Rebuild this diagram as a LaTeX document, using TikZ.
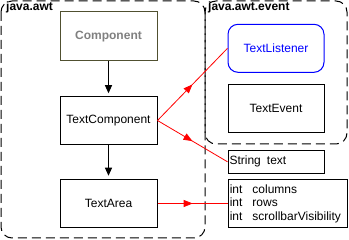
\documentclass[tikz,border=0pt]{standalone}
\usepackage{fontspec}
\setmainfont{Liberation Sans}
\usetikzlibrary{arrows.meta,decorations.markings}
\definecolor{olivebox}{RGB}{80,80,48}
\definecolor{compgray}{RGB}{128,128,128}
\begin{document}
\begin{tikzpicture}[x=1pt,y=-1pt,
  every node/.style={font=\fontsize{12pt}{13.5pt}\selectfont, inner sep=1.5pt},
  cls/.style={draw=black, line width=1pt, minimum width=97pt},
  region/.style={draw=black, line width=1pt, dash pattern=on 9pt off 5pt, rounded corners=11pt},
  regionlabel/.style={font=\fontsize{12pt}{13.5pt}\selectfont\bfseries, anchor=base west, inner sep=0pt},
  inherit/.style={draw=black, line width=1pt, -{Triangle[width=7pt,length=8pt]}, shorten >=3pt},
  uses/.style={draw=red, line width=0.8pt, postaction={decorate},
    decoration={markings, mark=at position 0.5 with {\arrow{Triangle[width=7pt,length=9pt]}}}}
]
\useasboundingbox (0,0) rectangle (349,240);

% package regions
\draw[region] (1,1) rectangle (205,238);
\draw[region] (205,1) rectangle (347,144);
\node[regionlabel] (awtlabel) at (6,11) {java.awt};
\node[regionlabel] (eventlabel) at (208,11) {java.awt.event};

% java.awt classes
\node[cls, draw=olivebox, minimum height=49pt, text=compgray, font=\fontsize{12pt}{13.5pt}\selectfont\bfseries]
  (component) at (108.5,36.5) {Component};
\node[cls, minimum height=47.5pt] (textcomp) at (108.5,120.5) {TextComponent};
\node[cls, minimum height=48.5pt] (textarea) at (108.5,203.5) {TextArea};

% java.awt.event types
\node[draw=blue, line width=1pt, rounded corners=10pt, minimum width=96pt, minimum height=48pt, text=blue]
  (listener) at (276,48.3) {TextListener};
\node[cls, minimum width=96pt, minimum height=48pt] (textevent) at (276,108.3) {TextEvent};

% fields
\node[draw=black, line width=1pt, minimum width=96pt, minimum height=23pt, text width=93pt, align=left]
  (stringfield) at (276,161.8) {\makebox[37.5pt][l]{String}text};
\node[draw=black, line width=1pt, minimum height=48.5pt, text width=116pt, align=left]
  (intfields) at (287.8,203.5)
  {\makebox[22.7pt][l]{int}columns\\\makebox[22.7pt][l]{int}rows\\\makebox[22.7pt][l]{int}scrollbarVisibility};

% connectors
\draw[inherit] (component.south) -- (textcomp.north);
\draw[inherit] (textcomp.south) -- (textarea.north);
\draw[uses] (textcomp.east) -- (listener.west);
\draw[uses] (textcomp.east) -- (stringfield.west);
\draw[uses] (textarea.east) -- (intfields.west);
\end{tikzpicture}
\end{document}
